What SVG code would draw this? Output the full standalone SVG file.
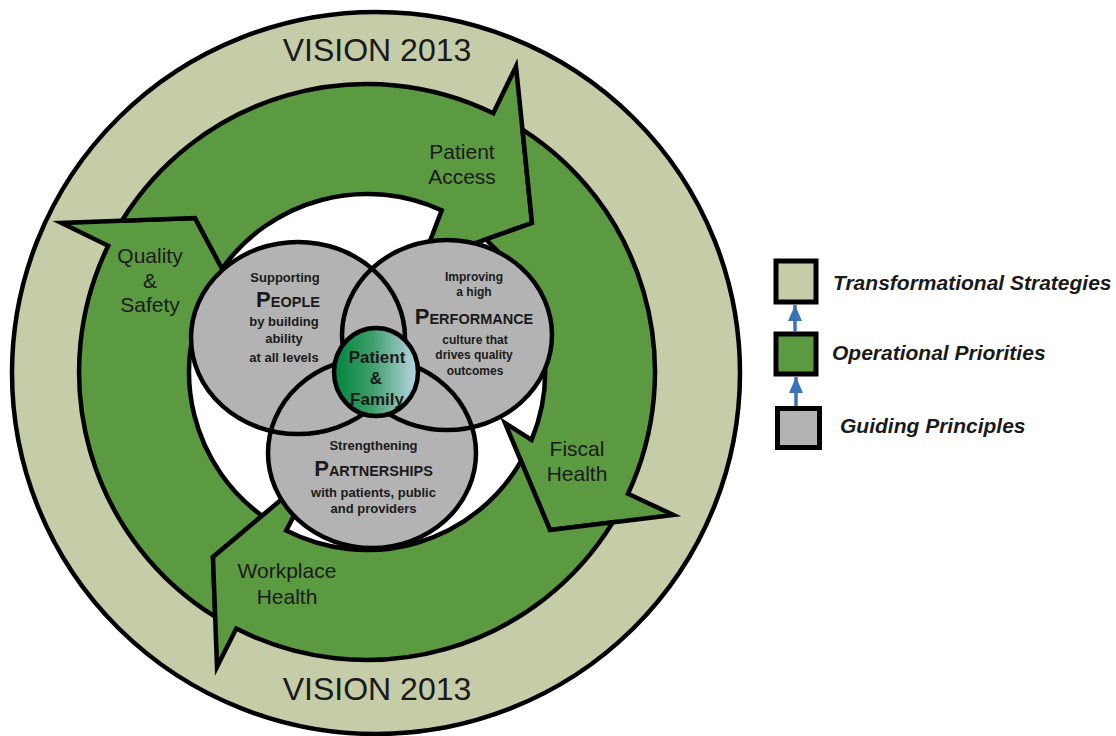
<svg xmlns="http://www.w3.org/2000/svg" width="1116" height="736" viewBox="0 0 1116 736">
  <defs>
    <style>
      .ring { fill: #c5cca8; stroke: #000; stroke-width: 4.5; }
      .band { fill: #5c9a42; stroke: #000; stroke-width: 4.5; stroke-linejoin: miter; stroke-miterlimit: 10; }
      .venn { fill: #b3b3b3; }
      .venn-line { fill: none; stroke: #000; stroke-width: 4.5; }
      .t { font-family: "Liberation Sans", Arial, sans-serif; fill: #1a1a1a; text-anchor: middle; }
      .big { font-size: 32px; }
      .lbl { font-size: 21px; }
      .vb { font-weight: bold; font-size: 13px; }
      .vs { font-weight: bold; font-size: 12px; }
      .cap { font-weight: bold; font-size: 22px; }
      .sc { font-weight: bold; font-size: 14.5px; }
      .pf { font-weight: bold; font-size: 17px; }
      .key { font-family: "Liberation Sans", Arial, sans-serif; font-size: 21px; font-weight: bold; font-style: italic; fill: #1a1a1a; }
      .box { stroke: #000; stroke-width: 5; }
      .up { stroke: #3b73b8; stroke-width: 3.5; fill: none; }
    </style>
    <linearGradient id="pf-grad" x1="0" y1="0" x2="1" y2="0">
      <stop offset="0" stop-color="#00853c"/>
      <stop offset="0.45" stop-color="#3d9e6a"/>
      <stop offset="1" stop-color="#bcd6e6"/>
    </linearGradient>
    <marker id="up-head" viewBox="0 0 16 14" refX="16" refY="7" markerWidth="16" markerHeight="14" markerUnits="userSpaceOnUse" orient="auto">
      <path d="M0,0 L16,7 L0,14 Z" fill="#3b73b8"/>
    </marker>
  </defs>

  <rect width="1116" height="736" fill="#fff"/>

  <!-- outer strategy ring, with its open centre -->
  <g id="vision-ring">
    <ellipse class="ring" cx="376" cy="373" rx="364" ry="361"/>
    <circle cx="367" cy="372" r="178" fill="#fff"/>
    <text class="t big" x="377" y="61">VISION 2013</text>
    <text class="t big" x="377" y="700">VISION 2013</text>
  </g>

  <!-- cycle of operational priorities (curved arrows) -->
  <g id="connectors">
    <g id="arrow-quality">
      <path class="band" d="M215.2,616.7 A288,288 0 0 1 108.2,245.8 L61.4,223 L195,218 L245.7,312.8 L207,294 A178,178 0 0 0 262.1,515.8 L213,557 Z"/>
      <text class="t lbl" x="150" y="263">Quality</text>
      <text class="t lbl" x="150" y="288">&amp;</text>
      <text class="t lbl" x="150" y="312">Safety</text>
    </g>
    <g id="arrow-access">
      <path class="band" d="M121.9,220.7 A288,288 0 0 1 493.3,113.2 L516,66.4 L532,223 L422,262 L441.7,210.4 A178,178 0 0 0 222.1,268.7 L195,218 Z"/>
      <text class="t lbl" x="462" y="159">Patient</text>
      <text class="t lbl" x="462" y="184">Access</text>
    </g>
    <g id="arrow-fiscal">
      <path class="band" d="M522.5,129.6 A288,288 0 0 1 628,493.7 L673.3,514.9 L550,530 L505,423 L531.6,439.8 A178,178 0 0 0 485.7,239.4 L532,223 Z"/>
      <text class="t lbl" x="577" y="456">Fiscal</text>
      <text class="t lbl" x="577" y="481">Health</text>
    </g>
    <g id="arrow-workplace">
      <path class="band" d="M612.7,522.3 A288,288 0 0 1 236.3,628.6 L217,667 L213,557 L318.3,468.5 L286.2,530.6 A178,178 0 0 0 521.1,461.2 L550,530 Z"/>
      <text class="t lbl" x="287" y="578">Workplace</text>
      <text class="t lbl" x="287" y="604">Health</text>
    </g>
  </g>

  <!-- guiding principles (Venn) -->
  <g id="people">
    <ellipse class="venn" cx="298" cy="338" rx="107" ry="96"/>
    <text class="t vb" x="285" y="282">Supporting</text>
    <text class="t" x="288" y="307"><tspan class="cap">P</tspan><tspan class="sc">EOPLE</tspan></text>
    <text class="t vb" x="284" y="326">by building</text>
    <text class="t vb" x="284" y="343">ability</text>
    <text class="t vb" x="284" y="362">at all levels</text>
  </g>
  <g id="performance">
    <ellipse class="venn" cx="447" cy="335" rx="105" ry="95"/>
    <text class="t vs" x="474" y="281">Improving</text>
    <text class="t vs" x="474" y="296">a high</text>
    <text class="t" x="474" y="324"><tspan class="cap">P</tspan><tspan class="sc">ERFORMANCE</tspan></text>
    <text class="t vs" x="475" y="344">culture that</text>
    <text class="t vs" x="474" y="359">drives quality</text>
    <text class="t vs" x="475" y="375">outcomes</text>
  </g>
  <g id="partnerships">
    <ellipse class="venn" cx="372" cy="453" rx="104" ry="95"/>
    <text class="t vb" x="373.5" y="450">Strengthening</text>
    <text class="t" x="373.5" y="476"><tspan class="cap">P</tspan><tspan class="sc">ARTNERSHIPS</tspan></text>
    <text class="t vb" x="373.5" y="497">with patients, public</text>
    <text class="t vb" x="373.5" y="513">and providers</text>
  </g>
  <g id="venn-outlines">
    <ellipse class="venn-line" cx="298" cy="338" rx="107" ry="96"/>
    <ellipse class="venn-line" cx="447" cy="335" rx="105" ry="95"/>
    <ellipse class="venn-line" cx="372" cy="453" rx="104" ry="95"/>
  </g>
  <g id="patient-family">
    <ellipse cx="376" cy="372" rx="42" ry="44" fill="url(#pf-grad)" stroke="#000" stroke-width="4.5"/>
    <text class="t pf" x="377" y="363">Patient</text>
    <text class="t pf" x="376" y="384">&amp;</text>
    <text class="t pf" x="377" y="405">Family</text>
  </g>

  <!-- legend -->
  <g id="legend">
    <g id="key-strategies">
      <rect class="box" x="776" y="261" width="40" height="41" fill="#c5cca8"/>
      <text class="key" x="833" y="290">Transformational Strategies</text>
    </g>
    <g id="key-priorities">
      <rect class="box" x="776" y="334" width="40" height="40" fill="#5c9a42"/>
      <text class="key" x="832" y="360">Operational Priorities</text>
    </g>
    <g id="key-principles">
      <rect class="box" x="777.5" y="408.5" width="42" height="39" fill="#b3b3b3"/>
      <text class="key" x="840" y="433">Guiding Principles</text>
    </g>
    <g id="key-links">
      <line class="up" x1="795" y1="332" x2="795" y2="305" marker-end="url(#up-head)"/>
      <line class="up" x1="796" y1="406" x2="796" y2="377" marker-end="url(#up-head)"/>
    </g>
  </g>
</svg>
